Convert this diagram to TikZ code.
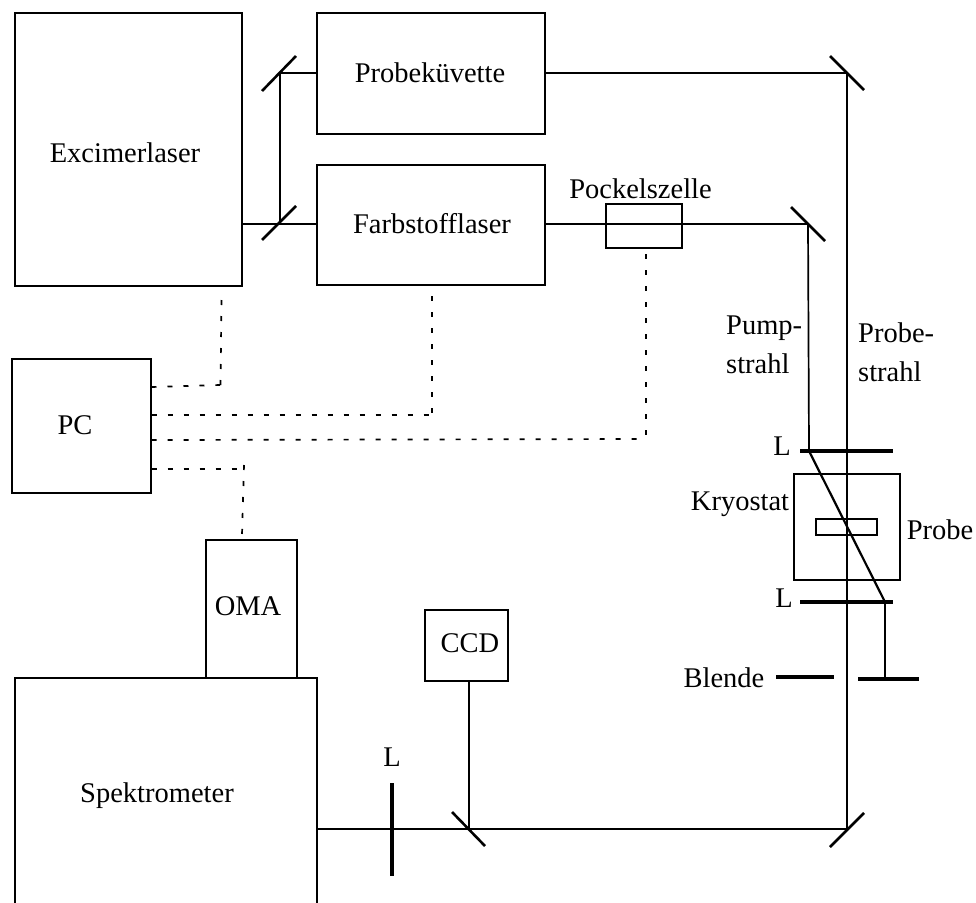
\documentclass[tikz,border=0pt]{standalone}
\usepackage{fontspec}
\setmainfont{Liberation Serif}
\tikzset{
  box/.style={draw=black,line width=1.7pt,inner sep=0pt,anchor=north west,fill=none},
  lbl/.style={inner sep=0pt,font=\fontsize{28.5}{39}\selectfont,align=left},
  beam/.style={line width=1.7pt},
  heavy/.style={line width=3.3pt},
  mirror/.style={line width=2.6pt},
  ctrl/.style={line width=1.7pt,dash pattern=on 5pt off 11pt}
}
\newcommand{\boxat}[5]{\node[box,minimum width=#4pt-#2pt,minimum height=#5pt-#3pt] (#1) at (#2-0.7,#3-0.7) {};}
\begin{document}
\begin{tikzpicture}[x=1pt,y=-1pt]
\useasboundingbox (0,0) rectangle (976,902);
% boxes
\boxat{exc}{15}{13}{242}{286}
\boxat{kuv}{317}{13}{545}{134}
\boxat{farb}{317}{165}{545}{285}
\boxat{pock}{606}{204}{682}{248}
\boxat{pc}{12}{359}{150.5}{493}
\boxat{oma}{206}{540}{297}{678}
\boxat{ccd}{425}{610}{508}{681}
\boxat{kryo}{794}{474}{900}{580}
\boxat{sample}{816}{519}{877}{535}
\path[clip] (0,0) rectangle (976,902);
\draw[line width=1.7pt] (15,905) -- (15,678) -- (317,678) -- (317,905);
% coordinates
\coordinate (mA) at (280,73);
\coordinate (mB) at (280,224);
\coordinate (mC) at (847,73);
\coordinate (mD) at (847,829);
\coordinate (mE) at (469,829);
\coordinate (mF) at (808,224);
\coordinate (lensT) at (809,451);
\coordinate (lensB) at (885,602);
\coordinate (bl) at (885,679);
% mirrors
\draw[mirror] (262,91) -- (296,56);
\draw[mirror] (262,240) -- (296,206);
\draw[mirror] (830,56) -- (864,90);
\draw[mirror] (830,847) -- (864,813);
\draw[mirror] (452,812) -- (485,846);
\draw[mirror] (791,207) -- (825,241);
% beams
\draw[beam] (exc.east |- mB) -- (farb.west |- mB);
\draw[beam] (mB) -- (mA) -- (kuv.west |- mA);
\draw[beam] (kuv.east |- mC) -- (mC) -- (mD) -- (mE) -- (317,829);
\draw[beam] (ccd.south -| mE) -- (mE);
\draw[beam] (farb.east |- mF) -- (mF) -- (lensT);
\draw[line width=2.2pt] (lensT) -- (lensB);
\draw[beam] (lensB) -- (bl);
% lenses and aperture
\draw[heavy] (800,451) -- (893,451);
\draw[heavy] (800,602) -- (893,602);
\draw[heavy] (392,783) -- (392,876);
\draw[heavy] (776,677) -- (834,677);
\draw[heavy] (858,679) -- (919,679);
% control lines
\draw[ctrl] (pc.east |- 0,387) -- (220,385);
\draw[ctrl] (221.5,300) -- (220.5,386);
\draw[ctrl] (pc.east |- 0,415) -- (432,415);
\draw[ctrl] (432,296) -- (432,415);
\draw[ctrl] (pc.east |- 0,440) -- (646,439);
\draw[ctrl] (646,254) -- (646,439);
\draw[ctrl] (pc.east |- 0,469) -- (240,469);
\draw[ctrl] (244,465) -- (242,535);
% labels
\node[lbl] (t1) at (125,153) {Excimerlaser};
\node[lbl] (t2) at (430,73) {Probeküvette};
\node[lbl] (t3) at (432,224) {Farbstofflaser};
\node[lbl] (t4) at (640.5,188.5) {Pockelszelle};
\node[lbl] (t5) at (75,425) {PC};
\node[lbl] (t6) at (248,606) {OMA};
\node[lbl] (t7) at (470,643) {CCD};
\node[lbl] (t8) at (157,796) {Spektrometer};
\node[lbl,anchor=north west] (t9) at (726,315.5) {Pump-\\strahl};
\node[lbl,anchor=north west] (t10) at (858,322.5) {Probe-\\strahl};
\node[lbl] (t11) at (782,446) {L};
\node[lbl] (t12) at (784,598.5) {L};
\node[lbl] (t14) at (392,757) {L};
\node[lbl] (t15) at (740,504) {Kryostat};
\node[lbl] (t16) at (940,530) {Probe};
\node[lbl] (t17) at (724,677.5) {Blende};
\end{tikzpicture}
\end{document}
